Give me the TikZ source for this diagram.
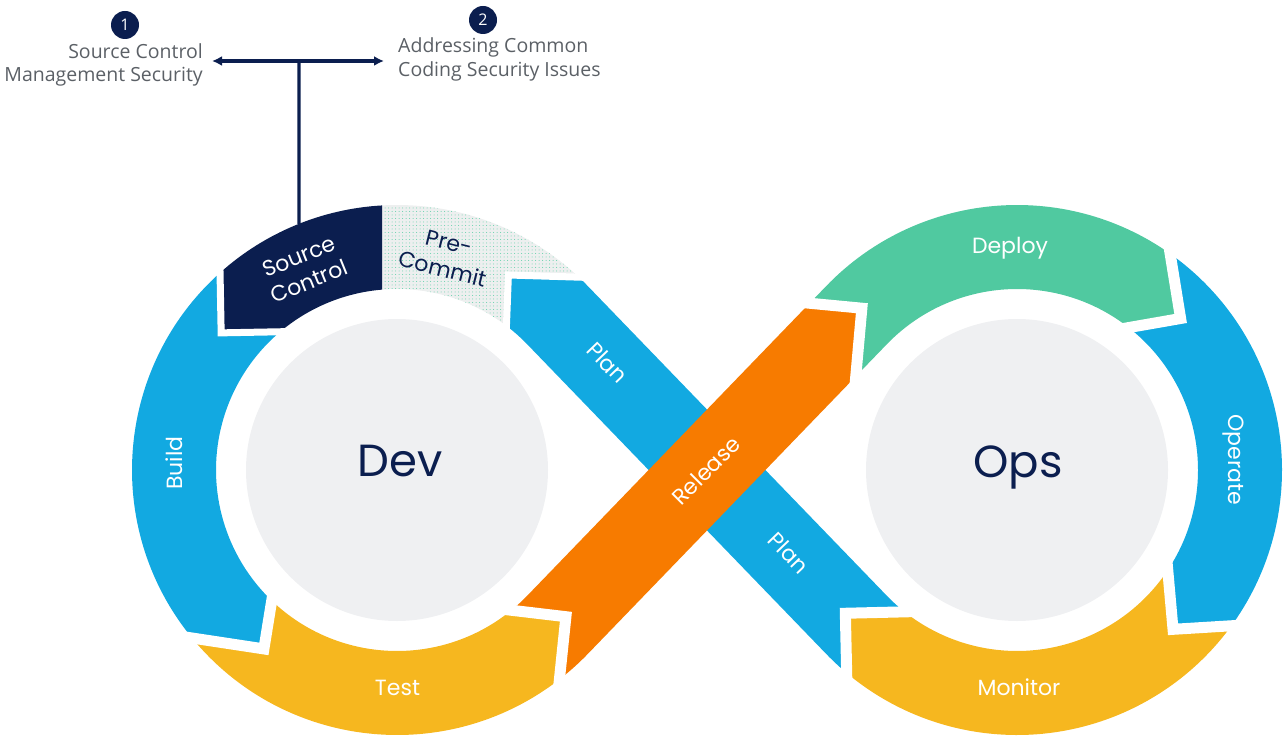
\documentclass[tikz,border=0pt]{standalone}
\usepackage{fontspec}
\usepackage{tikz}
\usepackage{xcolor}
\usetikzlibrary{calc, arrows.meta, patterns.meta}

\newfontfamily\poppins{Poppins}
\newfontfamily\opensans{Open Sans}

\definecolor{navy}{HTML}{0B1E4F}
\definecolor{ringblue}{HTML}{12A9E1}
\definecolor{deploygreen}{HTML}{50C9A0}
\definecolor{testyellow}{HTML}{F6B71F}
\definecolor{releaseorange}{HTML}{F77B00}
\definecolor{hubgray}{HTML}{EFF0F2}
\definecolor{pcgray}{HTML}{EDEFEF}
\definecolor{dotgreen}{HTML}{5DD0A8}
\definecolor{notegray}{HTML}{5B6066}

\begin{document}
\begin{tikzpicture}[x=1pt, y=1pt,
  jointgap/.style={draw=white, line width=11pt, line join=miter, shorten <=-9pt, shorten >=-9pt},
  thingap/.style={jointgap, line width=7pt},
  precommit/.style={fill=pcgray, postaction={pattern={Dots[distance=3.5pt, radius=0.5pt]}, pattern color=dotgreen}},
  seglabel/.style={text=white, font=\poppins\fontsize{22}{27}\selectfont, align=center, inner sep=0pt},
  hub/.style={text=navy, font=\poppins\fontsize{45}{50}\selectfont, inner sep=0pt},
  notetext/.style={text=notegray, font=\opensans\fontsize{19.5}{23.6}\selectfont, inner sep=0pt},
  badge/.style={circle, fill=navy, text=white, minimum size=28pt, inner sep=0pt, font=\opensans\fontsize{16}{16}\selectfont},
  conn/.style={draw=navy, line width=3.2pt}
]
\useasboundingbox (0,0) rectangle (1284,740);

\coordinate (dev) at (397,270);
\coordinate (ops) at (1017,270);

% joints of the Dev loop
\coordinate (j1i) at ($(dev)+(52.8:181)$);
\coordinate (j1v) at ($(dev)+(44:215.6)+(134:62.9)$);
\coordinate (j1o) at ($(dev)+(46.7:265)$);
\coordinate (j2i) at ($(dev)+(94.75:181)$);
\coordinate (j2o) at ($(dev)+(93.2:265)$);
\coordinate (j3i) at ($(dev)+(130.2:181)$);
\coordinate (j3v) at ($(dev)+(142.05:223)$);
\coordinate (j3o) at ($(dev)+(131.9:265)$);
\coordinate (j4i) at ($(dev)+(226.2:181)$);
\coordinate (j4v) at ($(dev)+(233.35:223)$);
\coordinate (j4o) at ($(dev)+(219.35:265)$);
\coordinate (j5i) at ($(dev)+(309.2:181)$);
\coordinate (j5v) at ($(dev)+(-44:223.4)+(46:11.8)$);
\coordinate (j5o) at ($(dev)+(307.8:265)$);

% Release band
\coordinate (r2) at ($(dev)+(-44:265)$);
\coordinate (j6i) at ($(dev)+(-44:181)+(46:406.6)$);
\coordinate (j6v) at ($(dev)+(-44:222)+(46:439.3)$);
\coordinate (j6o) at ($(dev)+(-44:265)+(46:386)$);

% joints of the Ops loop
\coordinate (o1) at ($(ops)+(136:181)$);
\coordinate (j7i) at ($(ops)+(51.9:181)$);
\coordinate (j7v) at ($(ops)+(42.8:223)$);
\coordinate (j7o) at ($(ops)+(54.7:265)$);
\coordinate (j8i) at ($(ops)+(-33.6:181)$);
\coordinate (j8v) at ($(ops)+(-45.6:223)$);
\coordinate (j8o) at ($(ops)+(-36:265)$);
\coordinate (j9i) at ($(ops)+(-128.4:181)$);
\coordinate (j9v) at ($(dev)+(44:223)+(-46:414.5)$);
\coordinate (j9o) at ($(ops)+(-130:265)$);

% Plan band
\coordinate (p2) at ($(dev)+(44:265)$);
\coordinate (p3) at ($(ops)+(224:265)$);

% hubs
\fill[hubgray] (dev) circle[radius=151];
\fill[hubgray] (ops) circle[radius=151];

% Dev loop
\path[precommit] (j1i) -- (j1v) -- (j1o) arc[start angle=46.7, end angle=93.2, radius=265]
  -- (j2i) arc[start angle=94.75, end angle=52.8, radius=181] -- cycle;
\fill[navy] (j2i) -- (j2o) arc[start angle=93.2, end angle=131.9, radius=265]
  -- (j3v) -- (j3i) arc[start angle=130.2, end angle=94.75, radius=181] -- cycle;
\fill[ringblue] (j3i) -- (j3v) -- (j3o) arc[start angle=131.9, end angle=219.35, radius=265]
  -- (j4v) -- (j4i) arc[start angle=226.2, end angle=130.2, radius=181] -- cycle;
\fill[testyellow] (j4i) -- (j4v) -- (j4o) arc[start angle=219.35, end angle=307.8, radius=265]
  -- (j5v) -- (j5i) arc[start angle=309.2, end angle=226.2, radius=181] -- cycle;

% Ops loop
\fill[deploygreen] (j6i) -- (j6v) -- (j6o) -- (o1) arc[start angle=136, end angle=51.9, radius=181]
  -- (j7v) -- (j7o) arc[start angle=54.7, end angle=136, radius=265] -- cycle;
\fill[ringblue] (j7i) -- (j7v) -- (j7o) arc[start angle=54.7, end angle=-36, radius=265]
  -- (j8v) -- (j8i) arc[start angle=-33.6, end angle=51.9, radius=181] -- cycle;
\fill[testyellow] (j8i) -- (j8v) -- (j8o) arc[start angle=-36, end angle=-130, radius=265]
  -- (j9v) -- (j9i) arc[start angle=-128.4, end angle=-33.6, radius=181] -- cycle;

% Plan goes under Release
\fill[ringblue] (j1i) arc[start angle=52.8, end angle=44, radius=181]
  -- (p3) arc[start angle=224, end angle=230, radius=265] -- (j9v)
  -- (j9i) arc[start angle=231.6, end angle=224, radius=181]
  -- (p2) arc[start angle=44, end angle=46.7, radius=265] -- (j1v) -- cycle;
\fill[releaseorange] (j5i) arc[start angle=309.2, end angle=316, radius=181]
  -- (j6i) -- (j6v) -- (j6o) -- (r2) arc[start angle=316, end angle=307.8, radius=265]
  -- (j5v) -- cycle;

% white gaps between the arrows
\foreach \jn in {1,3}
  \draw[thingap] (j\jn i) -- (j\jn v) -- (j\jn o);
\foreach \jn in {4,...,9}
  \draw[jointgap] (j\jn i) -- (j\jn v) -- (j\jn o);

% labels
\node[seglabel, rotate=22] (srcctl) at (304,471) {Source\\Control};
\node[seglabel, text=navy, rotate=-14] (precmt) at (446,484) {Pre-\\Commit};
\node[seglabel, rotate=90, anchor=base] (build) at (182.5,276.7) {Build};
\node[seglabel, anchor=base] (test) at (397.5,45) {Test};
\node[seglabel, rotate=-46] (planup) at (607.5,377.5) {Plan};
\node[seglabel, rotate=-46] (plandown) at (789,187) {Plan};
\node[seglabel, rotate=45] (release) at (706,269.5) {Release};
\node[seglabel, anchor=base] (deploy) at (1010,486) {Deploy};
\node[seglabel, rotate=-90, anchor=base] (operate) at (1228,280.5) {Operate};
\node[seglabel, anchor=base] (monitor) at (1019,45) {Monitor};
\node[hub, anchor=base] (devlbl) at (400,264) {Dev};
\node[hub, anchor=base] (opslbl) at (1018,263) {Ops};

% notes on top
\node[badge] (num1) at (125,715) {1};
\node[badge] (num2) at (483,720) {2};
\node[notetext, align=right, anchor=north east] (scm) at (203,697) {Source Control\\Management Security};
\node[notetext, align=left, anchor=north west] (acs) at (398,702.5) {Addressing Common\\Coding Security Issues};
\coordinate (junc) at (299,679);
\coordinate (sctop) at ($(dev)+(111.7:265)$);
\draw[conn] (sctop) -- (junc);
\draw[conn, -{Latex[length=10pt, width=10pt]}, shorten >=9pt] (junc) -- (junc -| scm.east);
\draw[conn, -{Latex[length=10pt, width=10pt]}, shorten >=14pt] (junc) -- (junc -| acs.west);
\end{tikzpicture}
\end{document}
